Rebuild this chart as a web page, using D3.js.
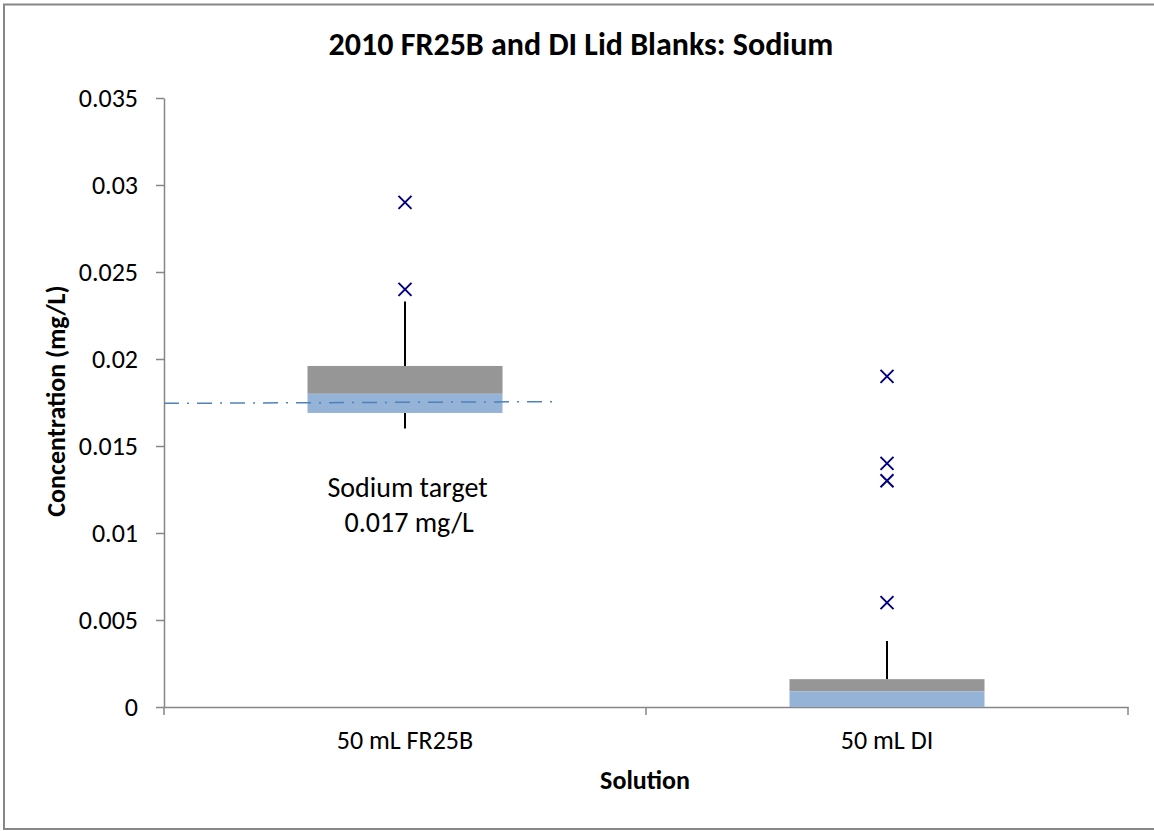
<!DOCTYPE html>
<html><head><meta charset="utf-8">
<script src="https://cdn.jsdelivr.net/npm/d3@7"></script>
<style>body{margin:0;background:#fff}svg{display:block}text{font-family:Carlito,Lato,"Open Sans",sans-serif;fill:#000}</style>
</head><body><svg id="c" width="1154" height="831"></svg>
<script>
const categories = ["50 mL FR25B", "50 mL DI"];
const whiskerMin = [0.016, 0.0];
const q1 = [0.0169, 0.0];
const median = [0.0180, 0.0009];
const q3 = [0.0196, 0.0016];
const whiskerMax = [0.0233, 0.0038];
const outliers = [[0.029, 0.024], [0.019, 0.014, 0.013, 0.006]];
const yTicks = [0, 0.005, 0.01, 0.015, 0.02, 0.025, 0.03, 0.035];
const targetLine = [0.01745, 0.01755];
const targetLabel = ["Sodium target", " 0.017 mg/L"];

const svg = d3.select("#c");
svg.append("rect").attr("x",4).attr("y",4.5).attr("width",1152).attr("height",824.5)
  .attr("fill","#fff").attr("stroke","#878787").attr("stroke-width",2);

const L=164, R=1128, T=98, B=707;
const y = d3.scaleLinear().domain([0,0.035]).range([B,T]);
const x = d3.scaleBand().domain(categories).range([L,R]);
const axisColor = "#868686";

// y axis
const ya = svg.append("g").attr("transform",`translate(${L},0)`)
  .call(d3.axisLeft(y).tickValues(yTicks).tickSize(8).tickSizeOuter(0).tickFormat(d=>d===0?"0":String(+d.toFixed(3))));
ya.select(".domain").attr("stroke",axisColor).attr("stroke-width",1.5);
ya.selectAll(".tick line").attr("stroke",axisColor).attr("stroke-width",1.5);
ya.selectAll(".tick text").attr("x",-26).attr("font-size",26).attr("font-family","Carlito,Lato,sans-serif");

// x axis
const xa = svg.append("g").attr("transform",`translate(0,${B})`)
  .call(d3.axisBottom(x).tickSize(0).tickSizeOuter(0));
xa.select(".domain").attr("stroke",axisColor).attr("stroke-width",1.5);
xa.selectAll(".tick text").attr("y",24).attr("font-size",26).attr("font-family","Carlito,Lato,sans-serif");
const bounds = [L, L + x.step(), R];
xa.selectAll(".btick").data(bounds).enter().append("line").attr("class","btick")
  .attr("x1",d=>d).attr("x2",d=>d).attr("y1",0).attr("y2",8).attr("stroke",axisColor).attr("stroke-width",1.5);

// boxes
const bw = 195;
categories.forEach((c,i)=>{
  const cx = x(c) + x.bandwidth()/2;
  const g = svg.append("g");
  g.append("line").attr("x1",cx).attr("x2",cx).attr("y1",y(whiskerMax[i])).attr("y2",y(q3[i])).attr("stroke","#000").attr("stroke-width",2);
  g.append("line").attr("x1",cx).attr("x2",cx).attr("y1",y(q1[i])).attr("y2",y(whiskerMin[i])).attr("stroke","#000").attr("stroke-width",2);
  g.append("rect").attr("x",cx-bw/2).attr("width",bw).attr("y",y(q3[i])).attr("height",y(median[i])-y(q3[i])).attr("fill","#969696");
  g.append("rect").attr("x",cx-bw/2).attr("width",bw).attr("y",y(median[i])).attr("height",y(q1[i])-y(median[i])).attr("fill","#95b3d7");
  outliers[i].forEach(v=>{
    const py=y(v), s=6.5;
    g.append("path").attr("d",`M${cx-s},${py-s}L${cx+s},${py+s}M${cx-s},${py+s}L${cx+s},${py-s}`)
      .attr("stroke","#000080").attr("stroke-width",2).attr("fill","none");
  });
});

// target line
svg.append("line").attr("x1",L).attr("x2",557).attr("y1",y(targetLine[0])).attr("y2",y(targetLine[1]))
  .attr("stroke","#4f81bd").attr("stroke-width",1.5).attr("stroke-dasharray","15,8,2,8");

// labels
svg.append("text").attr("x",407.5).attr("y",497).attr("text-anchor","middle").attr("font-size",28).text(targetLabel[0]);
svg.append("text").attr("x",406).attr("y",532).attr("text-anchor","middle").attr("font-size",28).attr("xml:space","preserve").text(targetLabel[1]);

svg.append("text").attr("x",581).attr("y",55).attr("text-anchor","middle").attr("font-size",32).attr("font-weight","bold").text("2010 FR25B and DI Lid Blanks: Sodium");
svg.append("text").attr("x",645).attr("y",789).attr("text-anchor","middle").attr("font-size",26).attr("font-weight","bold").text("Solution");
svg.append("text").attr("transform","translate(65,401) rotate(-90)").attr("text-anchor","middle").attr("font-size",26).attr("font-weight","bold").text("Concentration (mg/L)");
</script></body></html>
